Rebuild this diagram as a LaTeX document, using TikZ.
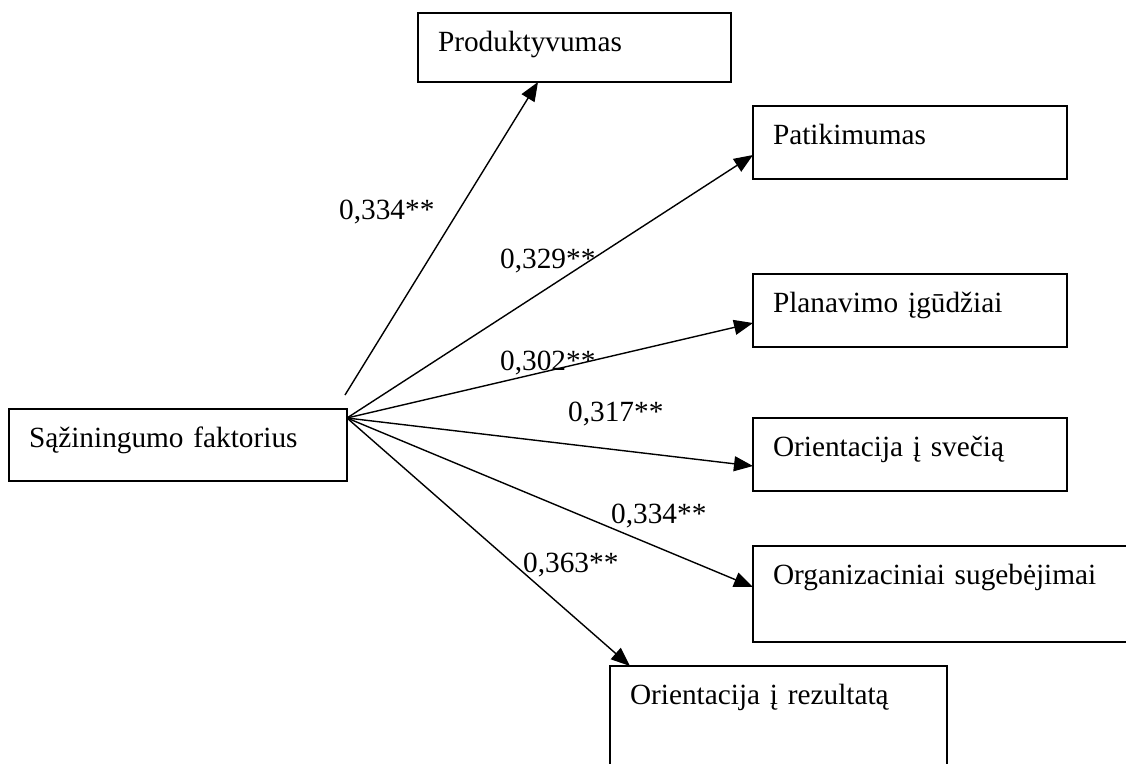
\documentclass[tikz,border=0pt]{standalone}
\usepackage{fontspec}
\setmainfont{Liberation Serif}
\usetikzlibrary{arrows.meta}
\begin{document}
\begin{tikzpicture}[x=1pt,y=-1pt,
  every node/.style={font=\fontsize{29.3}{35}\selectfont},
  box/.style={draw, line width=2pt, rectangle, anchor=north west,
    inner xsep=20pt, inner ysep=0pt, outer sep=0pt, text height=38pt, align=left},
  lbl/.style={anchor=base west, inner sep=0pt},
  link/.style={line width=1.4pt, -{Triangle[length=19pt,width=15pt]}}]
\fill[white] (0,0) rectangle (1126,763);
\useasboundingbox (0,0) rectangle (1126,763);

\node[box, text width=298pt, text depth=34pt] (saz) at (9,409) {Sąžiningumo faktorius};
\node[box, text width=273pt, text depth=31pt] (prod) at (418,13) {Produktyvumas};
\node[box, text width=274pt, text depth=35pt] (pat) at (753,106) {Patikimumas};
\node[box, text width=274pt, text depth=35pt] (plan) at (753,274) {Planavimo įgūdžiai};
\node[box, text width=274pt, text depth=35pt] (svec) at (753,418) {Orientacija į svečią};
\node[box, text width=347pt, text depth=58pt] (org) at (753,546) {Organizaciniai sugebėjimai};
\node[box, text width=297pt, text depth=100pt] (rez) at (610,666) {Orientacija į rezultatą};

\node[lbl] (l1) at (339,219) {0,334**};
\node[lbl] (l2) at (500,268) {0,329**};
\node[lbl] (l3) at (500,370) {0,302**};
\node[lbl] (l4) at (568,421) {0,317**};
\node[lbl] (l5) at (611,523) {0,334**};
\node[lbl] (l6) at (523,572) {0,363**};

\coordinate (src) at ([yshift=-9pt]saz.north east);
\coordinate (srcp) at ([shift={(-2pt,14pt)}]saz.north east);

\draw[link] (srcp) -- ([xshift=120pt]prod.south west);
\draw[link] (src) -- ([yshift=-49pt]pat.north west);
\draw[link] (src) -- ([yshift=-49pt]plan.north west);
\draw[link] (src) -- ([yshift=-48pt]svec.north west);
\draw[link] (src) -- ([yshift=-41pt]org.north west);
\draw[link] (src) -- ([xshift=20pt]rez.north west);
\end{tikzpicture}
\end{document}
